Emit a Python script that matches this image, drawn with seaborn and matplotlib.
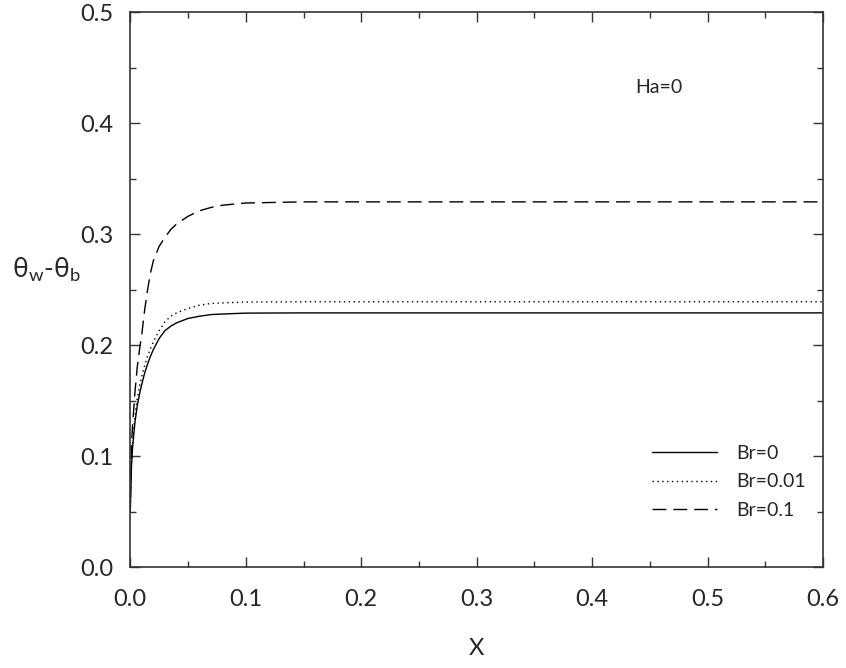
import numpy as np
import pandas as pd
import matplotlib
matplotlib.use("Agg")
import matplotlib.pyplot as plt
import seaborn as sns
from matplotlib.ticker import MultipleLocator

# --- Data ---
x_vals = [0.0, 0.001, 0.002, 0.004, 0.006, 0.008, 0.01, 0.0125, 0.015, 0.0175,
          0.02, 0.025, 0.03, 0.035, 0.04, 0.05, 0.06, 0.07, 0.08, 0.1, 0.15, 0.6]
br0 = [0.05, 0.09, 0.108, 0.13, 0.145, 0.156, 0.165, 0.175, 0.183, 0.19,
       0.196, 0.206, 0.213, 0.217, 0.220, 0.224, 0.226, 0.2275, 0.228, 0.2288, 0.229, 0.229]
br001 = [0.05, 0.095, 0.112, 0.136, 0.152, 0.163, 0.172, 0.182, 0.19, 0.197,
         0.203, 0.213, 0.221, 0.226, 0.229, 0.233, 0.236, 0.2375, 0.238, 0.2388, 0.239, 0.239]
br01 = [0.06, 0.11, 0.128, 0.157, 0.18, 0.196, 0.21, 0.232, 0.25, 0.265,
        0.276, 0.289, 0.297, 0.304, 0.309, 0.316, 0.321, 0.324, 0.326, 0.328, 0.329, 0.329]
labels = ["Br=0", "Br=0.01", "Br=0.1"]

sns.set_style("ticks")
plt.rcParams["font.family"] = ["Lato", "DejaVu Sans"]
plt.rcParams["mathtext.fontset"] = "custom"
plt.rcParams["mathtext.rm"] = "Lato"

fig = plt.figure(figsize=(8.46, 6.68), dpi=100)
ax = fig.add_axes([0.154, 0.151, 0.819, 0.831])

styles = ["-", (0, (1, 2.5)), (0, (10, 5))]
for yv, lab, ls in zip([br0, br001, br01], labels, styles):
    sns.lineplot(x=x_vals, y=yv, ax=ax, color="black", linewidth=1.0,
                 linestyle=ls, label=lab)

ax.set_xlim(0, 0.6)
ax.set_ylim(0, 0.5)
ax.xaxis.set_major_locator(MultipleLocator(0.1))
ax.xaxis.set_minor_locator(MultipleLocator(0.05))
ax.yaxis.set_major_locator(MultipleLocator(0.1))
ax.yaxis.set_minor_locator(MultipleLocator(0.05))
ax.xaxis.set_major_formatter(plt.FormatStrFormatter("%.1f"))
ax.yaxis.set_major_formatter(plt.FormatStrFormatter("%.1f"))
ax.tick_params(which="both", direction="in", right=True, top=True,
               labelsize=17, width=1.0, color="#333333")
ax.tick_params(which="major", length=7)
ax.tick_params(axis="x", which="major", pad=16)
ax.tick_params(axis="y", which="major", pad=12)
ax.tick_params(which="minor", length=4)
for s in ax.spines.values():
    s.set_linewidth(1.2)
    s.set_color("#333333")

ax.set_xlabel("X", fontsize=17, labelpad=20)
ax.set_ylabel("")
ax.text(-0.073, 0.268, r"θ$_{\mathrm{w}}$-θ$_{\mathrm{b}}$",
        fontsize=19, ha="center", va="center", clip_on=False)
ax.text(0.437, 0.432, "Ha=0", fontsize=14, ha="left", va="center")

leg = ax.legend(loc="lower right", bbox_to_anchor=(1.0, 0.055),
                frameon=False, fontsize=14, handlelength=3.3,
                handletextpad=1.0, labelspacing=0.6)

plt.savefig("out.png", dpi=100)
